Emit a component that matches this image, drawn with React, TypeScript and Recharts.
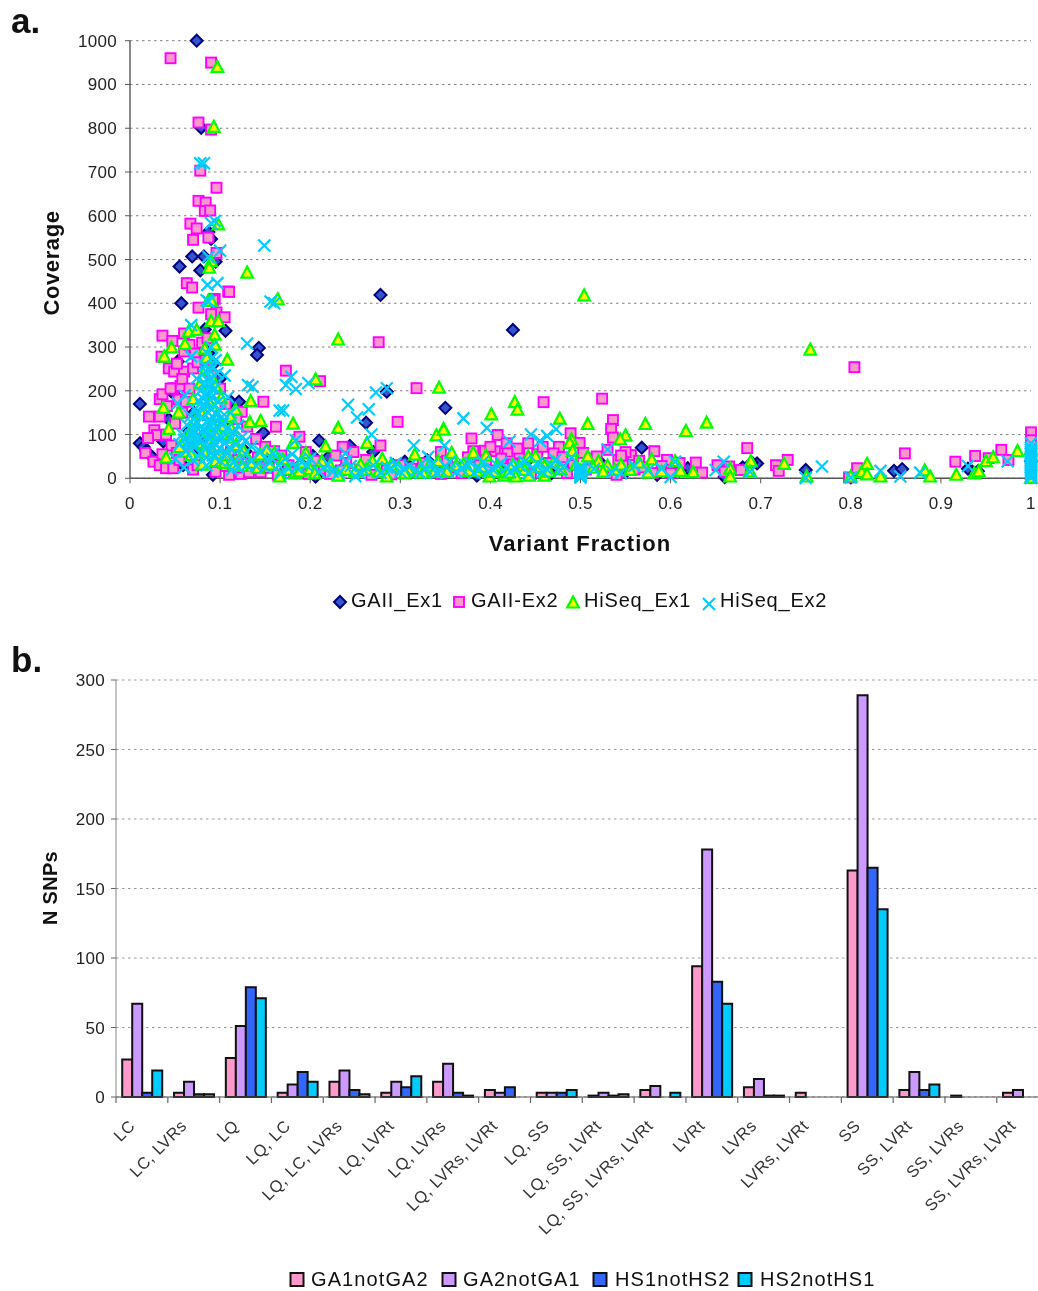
import React from 'react';
import { ScatterChart, Scatter, BarChart, Bar, XAxis, YAxis, CartesianGrid, Legend, Label } from 'recharts';

const FONT = '"Liberation Sans", Arial, sans-serif';

const gaiiEx1: [number, number][] = [
  [0.074,1000],[0.079,801],[0.087,563],[0.09,547],[0.095,495],[0.055,484],[0.069,507],[0.082,507],[0.078,475],
  [0.057,400],[0.278,419],[0.425,339],[0.106,337],[0.143,298],[0.141,282],[0.053,267],[0.285,198],[0.112,175],
  [0.121,175],[0.011,170],[0.35,161],[0.262,127],[0.148,104],[0.011,80],[0.015,72],[0.21,86],[0.203,51],[0.22,48],
  [0.244,74],[0.037,84],[0.059,30],[0.092,8],[0.568,70],[0.619,23],[0.696,34],[0.69,36],[0.75,19],[0.848,17],
  [0.857,21],[0.941,16],[0.935,15],[1,40],[0.018,62],[0.025,48],[0.05,190],[0.043,135],[0.066,108],[0.071,150],
  [0.083,340],[0.087,286],[0.093,262],[0.1,228],[0.104,120],[0.128,62],[0.136,28],[0.156,44],[0.172,18],[0.19,33],
  [0.206,4],[0.236,22],[0.27,60],[0.292,30],[0.305,38],[0.33,41],[0.342,15],[0.37,22],[0.385,6],[0.412,18],[0.443,44],
  [0.468,12],[0.487,26],[0.52,40],[0.55,14],[0.585,8],[0.61,18],[0.66,3],[0.68,25],[0.8,2],[0.93,22],[0.075,68],[0.08,95],
];

const gaiiEx2: [number, number][] = [
  [0.045,960],[0.09,950],[0.076,813],[0.09,797],[0.078,703],[0.096,664],[0.076,634],[0.084,630],[0.083,611],[0.089,612],
  [0.067,582],[0.074,571],[0.07,545],[0.087,550],[0.096,515],[0.063,446],[0.069,436],[0.109,427],[0.094,410],[0.11,426],
  [0.092,407],[0.076,390],[0.096,379],[0.105,368],[0.09,375],[0.036,326],[0.06,331],[0.047,314],[0.276,311],[0.318,206],
  [0.211,222],[0.173,246],[0.297,129],[0.162,118],[0.148,175],[0.124,152],[0.188,95],[0.278,75],[0.236,72],[0.248,60],
  [0.021,141],[0.033,141],[0.027,110],[0.03,99],[0.02,92],[0.017,58],[0.026,38],[0.033,30],[0.04,23],[0.048,23],[0.07,20],
  [0.11,8],[0.123,10],[0.033,181],[0.036,192],[0.048,206],[0.056,211],[0.043,251],[0.049,244],[0.06,244],[0.07,251],
  [0.058,227],[0.035,278],[0.459,174],[0.524,182],[0.536,133],[0.534,113],[0.536,93],[0.379,91],[0.408,99],[0.489,103],
  [0.499,81],[0.582,62],[0.442,80],[0.419,61],[0.381,62],[0.394,63],[0.405,62],[0.432,57],[0.476,72],[0.47,57],[0.556,53],
  [0.596,42],[0.628,36],[0.635,13],[0.652,30],[0.665,27],[0.51,45],[0.56,20],[0.547,35],[0.685,69],[0.678,19],[0.717,30],
  [0.72,17],[0.73,42],[0.804,254],[0.798,2],[0.807,23],[0.86,57],[0.916,38],[0.938,51],[0.953,46],[0.967,65],[0.975,42],
  [1,105],[1,87],[0.054,180],[0.062,175],[0.041,165],[0.05,125],[0.04,100],[0.046,75],[0.052,58],[0.036,55],[0.06,290],
  [0.066,305],[0.072,285],[0.08,310],[0.086,320],[0.075,265],[0.084,270],[0.09,235],[0.1,205],[0.106,170],[0.118,135],
  [0.13,118],[0.14,90],[0.15,72],[0.112,60],[0.12,42],[0.103,28],[0.095,15],[0.125,25],[0.135,34],[0.145,14],[0.16,62],
  [0.168,52],[0.176,30],[0.195,60],[0.205,40],[0.215,22],[0.228,52],[0.24,35],[0.255,20],[0.262,42],[0.285,18],[0.3,30],
  [0.312,22],[0.325,35],[0.335,16],[0.345,60],[0.352,40],[0.36,25],[0.375,48],[0.388,30],[0.398,18],[0.412,45],[0.425,32],
  [0.438,22],[0.452,55],[0.465,35],[0.48,48],[0.492,30],[0.506,20],[0.518,50],[0.53,65],[0.542,42],[0.55,60],[0.565,40],
  [0.57,25],[0.59,28],[0.54,8],[0.58,12],[0.61,35],[0.66,15],
  [0.132,14],[0.142,48],[0.154,24],[0.164,8],[0.182,14],[0.198,10],[0.222,10],[0.234,18],[0.268,8],[0.29,9],[0.345,10],
  [0.368,12],[0.395,42],[0.4,72],[0.418,80],[0.43,68],[0.445,10],[0.458,72],[0.485,12],[0.503,58],[0.525,25],[0.545,52],
  [0.6,12],[0.075,30],[0.055,42],[0.065,72],[0.058,150],[0.066,205],[0.052,262],[0.045,205],
];

const hiseqEx1: [number, number][] = [
  [0.097,939],[0.093,802],[0.098,579],[0.09,495],[0.088,480],[0.13,469],[0.164,408],[0.087,405],[0.09,405],[0.231,316],
  [0.343,206],[0.206,225],[0.108,270],[0.09,358],[0.098,358],[0.065,334],[0.074,338],[0.061,306],[0.046,298],[0.038,277],
  [0.094,327],[0.083,295],[0.085,274],[0.094,304],[0.037,160],[0.134,175],[0.117,156],[0.054,149],[0.043,112],[0.133,127],
  [0.145,130],[0.111,140],[0.181,124],[0.231,114],[0.348,112],[0.34,97],[0.263,80],[0.28,43],[0.316,53],[0.323,23],
  [0.181,80],[0.217,72],[0.213,38],[0.195,57],[0.16,57],[0.152,63],[0.144,53],[0.124,27],[0.134,34],[0.142,23],[0.04,46],
  [0.112,114],[0.166,3],[0.175,19],[0.183,10],[0.188,15],[0.2,20],[0.231,5],[0.24,19],[0.25,15],[0.262,19],[0.269,38],
  [0.285,3],[0.342,38],[0.504,417],[0.427,173],[0.43,156],[0.477,135],[0.401,145],[0.348,110],[0.508,123],[0.572,123],
  [0.617,107],[0.64,126],[0.55,97],[0.544,88],[0.49,88],[0.488,80],[0.491,61],[0.508,49],[0.52,38],[0.579,42],[0.442,49],
  [0.45,49],[0.395,51],[0.381,57],[0.357,57],[0.432,27],[0.399,3],[0.415,5],[0.46,5],[0.46,27],[0.428,3],[0.443,5],[0.514,23],
  [0.538,18],[0.555,18],[0.611,16],[0.625,13],[0.666,21],[0.666,3],[0.605,38],[0.755,293],[0.689,38],[0.688,15],[0.726,32],
  [0.751,3],[0.8,3],[0.812,13],[0.818,32],[0.818,8],[0.833,3],[0.882,17],[0.888,3],[0.917,7],[0.937,10],[0.942,15],[0.95,38],
  [0.958,47],[0.985,61],[1,0],[1,65],[0.07,180],[0.078,215],[0.084,248],[0.09,232],[0.095,210],[0.101,182],[0.072,128],
  [0.065,96],[0.08,146],[0.088,172],[0.096,142],[0.104,118],[0.11,92],[0.086,105],[0.075,80],[0.06,60],[0.068,52],[0.09,70],
  [0.1,56],[0.118,75],[0.126,62],[0.095,38],[0.08,30],[0.105,34],[0.298,25],[0.31,14],[0.332,28],[0.352,14],[0.37,32],[0.385,15],
  [0.408,28],[0.42,12],[0.47,35],[0.5,15],[0.53,28],[0.59,15],
  [0.155,30],[0.17,42],[0.19,35],[0.205,10],[0.222,28],[0.256,30],[0.276,14],[0.29,30],[0.305,10],[0.325,12],[0.338,14],
  [0.362,28],[0.376,16],[0.39,25],[0.405,14],[0.425,30],[0.438,18],[0.455,25],[0.465,14],[0.478,20],[0.495,30],[0.525,14],
  [0.545,30],[0.565,35],[0.575,12],[0.06,85],[0.082,60],[0.098,100],[0.108,52],[0.116,30],[0.055,70],[0.07,105],[0.092,122],
];

const hiseqEx2: [number, number][] = [
  [0.078,720],[0.082,720],[0.09,583],[0.094,588],[0.087,506],[0.1,520],[0.149,532],[0.086,442],[0.097,446],[0.085,407],
  [0.156,404],[0.16,400],[0.087,404],[0.068,350],[0.13,308],[0.068,278],[0.131,213],[0.136,209],[0.179,232],[0.173,213],
  [0.184,204],[0.198,218],[0.273,196],[0.285,206],[0.242,168],[0.252,139],[0.265,158],[0.268,100],[0.315,75],[0.166,155],
  [0.17,155],[0.105,235],[0.109,186],[0.061,190],[0.074,228],[0.053,171],[0.184,87],[0.159,57],[0.12,120],[0.112,150],[0.125,95],
  [0.239,57],[0.331,49],[0.349,75],[0.37,137],[0.396,115],[0.421,84],[0.445,100],[0.463,97],[0.473,112],[0.455,85],[0.53,66],
  [0.605,38],[0.6,3],[0.659,38],[0.65,19],[0.545,12],[0.768,27],[0.688,15],[0.75,1],[0.8,2],[0.833,17],[0.855,4],[0.877,13],
  [0.93,28],[0.974,39],
  [0.09,300],[0.086,285],[0.095,270],[0.092,255],[0.084,245],[0.097,240],[0.09,228],[0.082,218],[0.088,210],[0.094,205],[0.078,200],
  [0.085,192],[0.091,185],[0.076,178],[0.098,175],[0.083,168],[0.09,160],[0.072,158],[0.087,150],[0.095,148],[0.067,142],[0.08,140],
  [0.102,140],[0.074,130],[0.086,128],[0.092,125],[0.063,122],[0.079,118],[0.098,115],[0.107,112],[0.07,108],[0.084,104],[0.09,100],
  [0.058,100],[0.075,95],[0.102,92],[0.112,90],[0.066,86],[0.08,84],[0.094,80],[0.118,78],[0.055,78],[0.071,72],[0.086,70],[0.1,68],
  [0.062,62],[0.078,58],[0.108,58],[0.092,52],[0.125,50],[0.05,45],[0.07,42],[0.1,40],[0.115,38],[0.135,40],[0.085,30],[0.06,25],
  [0.12,25],[0.145,60],[0.14,28],[0.152,42],[0.165,30],[0.172,45],[0.18,55],[0.188,42],[0.176,22],[0.196,30],[0.21,15],[0.22,32],
  [0.232,12],[0.245,28],[0.25,5],[0.26,18],[0.278,12],[0.29,22],[0.3,15],[0.31,28],[0.322,12],[0.335,30],[0.345,18],[0.355,38],
  [0.362,15],[0.372,30],[0.382,12],[0.392,38],[0.402,22],[0.412,35],[0.422,15],[0.432,30],[0.442,12],[0.452,35],[0.462,22],[0.472,42],
  [0.482,28],[0.49,48],[0.515,22],[0.535,15],[0.56,28],[0.575,18],[0.59,22],
  [0.088,135],[0.093,112],[0.082,112],[0.077,88],[0.097,92],[0.072,120],[0.068,98],[0.088,92],[0.083,78],[0.092,68],[0.105,82],
  [0.11,70],[0.076,50],[0.085,48],[0.097,58],[0.065,70],[0.06,88],[0.103,125],[0.115,105],[0.122,68],[0.128,85],[0.135,72],
  [0.08,165],[0.086,175],[0.075,145],[0.093,138],[0.1,155],[0.081,182],[0.09,195],[0.094,168],[0.087,222],[0.089,245],
  [0.083,258],[0.091,275],[0.105,50],[0.113,20],[0.13,30],[0.15,25],[0.158,45],[0.168,12],[0.185,25],[0.2,45],[0.215,25],
  [0.225,15],[0.24,40],[0.255,12],[0.27,30],[0.285,25],[0.295,35],[0.305,22],[0.318,18],[0.328,22],[0.34,12],[0.35,28],[0.368,22],
  [0.378,35],[0.388,22],[0.398,15],[0.408,28],[0.418,25],[0.428,22],[0.438,38],[0.448,22],[0.458,15],[0.468,30],[0.478,18],
  [0.5,2],[0.5,5],[0.5,8],[0.5,11],[0.5,14],[0.5,17],[0.5,20],[0.5,23],[0.5,26],
  [1,1],[1,5],[1,9],[1,13],[1,17],[1,21],[1,25],[1,29],[1,33],[1,37],[1,41],[1,45],[1,49],[1,53],[1,57],[1,61],[1,65],[1,70],[1,80],
];

const fractionTicks = [0,0.1,0.2,0.3,0.4,0.5,0.6,0.7,0.8,0.9,1];
const coverageTicks = [0,100,200,300,400,500,600,700,800,900,1000];
const snpTicks = [0,50,100,150,200,250,300];

const categories = ['LC','LC, LVRs','LQ','LQ, LC','LQ, LC, LVRs','LQ, LVRt','LQ, LVRs','LQ, LVRs, LVRt','LQ, SS','LQ, SS, LVRt','LQ, SS, LVRs, LVRt','LVRt','LVRs','LVRs, LVRt','SS','SS, LVRt','SS, LVRs','SS, LVRs, LVRt'];
const ga1notGa2 = [27,3,28,3,11,3,11,5,3,1,5,94,7,3,163,5,1,3];
const ga2notGa1 = [67,11,51,9,19,11,24,3,3,3,8,178,13,0,289,18,0,5];
const hs1notHs2 = [3,2,79,18,5,7,3,7,3,1,0,83,1,0,165,5,0,0];
const hs2notHs1 = [19,2,71,11,2,15,1,0,5,2,3,67,1,0,135,9,0,0];

const toPoints = (a: [number, number][]) => a.map(([x, y]) => ({ x, y }));
const barTable = categories.map((name, i) => ({
  name, GA1notGA2: ga1notGa2[i], GA2notGA1: ga2notGa1[i], HS1notHS2: hs1notHs2[i], HS2notHS1: hs2notHs1[i],
}));

const Diamond = ({ cx, cy }: any) => (
  <path d={`M${cx} ${cy - 6}L${cx + 6} ${cy}L${cx} ${cy + 6}L${cx - 6} ${cy}Z`} fill="#3355cc" stroke="#000080" strokeWidth={2} />
);
const Square = ({ cx, cy }: any) => (
  <rect x={cx - 5} y={cy - 5} width={10} height={10} fill="#ff99cc" stroke="#ff00ff" strokeWidth={1.9} />
);
const Triangle = ({ cx, cy }: any) => (
  <path d={`M${cx} ${cy - 6.5}L${cx + 5.8} ${cy + 4.5}L${cx - 5.8} ${cy + 4.5}Z`} fill="#ffff00" stroke="#00ff00" strokeWidth={2.2} />
);
const XMark = ({ cx, cy }: any) => (
  <path d={`M${cx - 6} ${cy - 6}L${cx + 6} ${cy + 6}M${cx + 6} ${cy - 6}L${cx - 6} ${cy + 6}`} stroke="#00ccff" strokeWidth={2.2} fill="none" />
);

const ScatterLegend = () => (
  <svg width={1038} height={30} style={{ display: 'block' }} fontFamily={FONT} fontSize={20} fill="#111" letterSpacing={0.8}>
    <Diamond cx={340} cy={18} />
    <text x={351} y={23}>GAII_Ex1</text>
    <Square cx={459} cy={18} />
    <text x={471} y={23}>GAII-Ex2</text>
    <Triangle cx={573} cy={19} />
    <text x={584} y={23}>HiSeq_Ex1</text>
    <XMark cx={709} cy={20} />
    <text x={720} y={23}>HiSeq_Ex2</text>
  </svg>
);

const barColors = ['#ff99cc', '#cc99ff', '#3366ff', '#00ccff'];
const BarLegend = () => (
  <svg width={1038} height={30} style={{ display: 'block' }} fontFamily={FONT} fontSize={20} fill="#111" letterSpacing={1.1}>
    {[290, 442, 593, 738].map((x, i) => (
      <rect key={x} x={x + 0.5} y={5} width={13} height={13} fill={barColors[i]} stroke="#111" strokeWidth={2} />
    ))}
    <text x={311} y={18}>GA1notGA2</text>
    <text x={463} y={18}>GA2notGA1</text>
    <text x={615} y={18}>HS1notHS2</text>
    <text x={760} y={18}>HS2notHS1</text>
  </svg>
);

const CategoryTick = ({ x, y, payload }: any) => {
  const half = 25.9;
  return (
    <g>
      <line x1={x - half} x2={x - half} y1={y - 8} y2={y - 2} stroke="#666" strokeWidth={1.2} />
      <text
        transform={`translate(${x - 6} ${y + 22}) rotate(-45)`}
        textAnchor="end"
        fontFamily={FONT}
        fontSize={16.5}
        fill="#333"
        letterSpacing={0.4}
      >
        {payload.value}
      </text>
    </g>
  );
};

const AxisTitle = ({ x, y, rotate, size, text, spacing }: any) => (
  <text
    transform={`translate(${x} ${y})${rotate ? ' rotate(-90)' : ''}`}
    textAnchor="middle"
    fontFamily={FONT}
    fontWeight="bold"
    fontSize={size}
    letterSpacing={spacing}
    fill="#111"
  >
    {text}
  </text>
);

const tickStyle = { fontFamily: FONT, fontSize: 17, fill: '#222', letterSpacing: 0.3 };

export default function App() {
  return (
    <div style={{ position: 'absolute', left: 0, top: 0, width: 1038, height: 1291, overflow: 'hidden', background: '#fff', fontFamily: FONT, filter: 'blur(0.35px)' }}>
      <div style={{ position: 'absolute', left: 11, top: 1, fontSize: 35, fontWeight: 'bold', color: '#111' }}>a.</div>
      <div style={{ position: 'absolute', left: 11, top: 640, fontSize: 35, fontWeight: 'bold', color: '#111' }}>b.</div>

      <div style={{ position: 'absolute', left: 0, top: 0 }}>
        <ScatterChart width={1038} height={640} margin={{ top: 40.7, right: 7, bottom: 0, left: 0 }}>
          <CartesianGrid horizontal vertical={false} stroke="#808080" strokeDasharray="2.5 3.5" strokeWidth={1} />
          <XAxis type="number" dataKey="x" domain={[0, 1]} ticks={fractionTicks} height={161.7} interval={0}
            tick={tickStyle} tickMargin={14} tickSize={5} axisLine={{ stroke: '#555', strokeWidth: 1.4 }} tickLine={{ stroke: '#555' }}
            tickFormatter={(v: number) => String(v)}>
            <Label content={() => <AxisTitle x={580} y={551} size={22} spacing={1} text="Variant Fraction" />} />
          </XAxis>
          <YAxis type="number" dataKey="y" domain={[0, 1000]} ticks={coverageTicks} width={130} interval={0}
            tick={tickStyle} tickMargin={8} tickSize={5} axisLine={{ stroke: '#555', strokeWidth: 1.4 }} tickLine={{ stroke: '#555' }}>
            <Label content={() => <AxisTitle x={59} y={263} rotate size={22} spacing={0.6} text="Coverage" />} />
          </YAxis>
          <Legend layout="horizontal" verticalAlign="middle" align="center" wrapperStyle={{ top: 584, left: 0, width: 1038, height: 30 }} content={() => <ScatterLegend />} />
          <Scatter name="GAII_Ex1" data={toPoints(gaiiEx1)} shape={<Diamond />} isAnimationActive={false} />
          <Scatter name="GAII-Ex2" data={toPoints(gaiiEx2)} shape={<Square />} isAnimationActive={false} />
          <Scatter name="HiSeq_Ex1" data={toPoints(hiseqEx1)} shape={<Triangle />} isAnimationActive={false} />
          <Scatter name="HiSeq_Ex2" data={toPoints(hiseqEx2)} shape={<XMark />} isAnimationActive={false} />
        </ScatterChart>
      </div>

      <div style={{ position: 'absolute', left: 0, top: 640 }}>
        <BarChart width={1060} height={651} data={barTable} margin={{ top: 40, right: 11.4, bottom: 0, left: 0 }} barGap={0} barCategoryGap="12%">
          <CartesianGrid horizontal vertical={false} stroke="#999" strokeDasharray="2.5 3.5" strokeWidth={1} />
          <XAxis dataKey="name" height={194} interval={0} tick={<CategoryTick />} tickLine={false} axisLine={{ stroke: '#555', strokeWidth: 1.2 }} />
          <YAxis type="number" domain={[0, 300]} ticks={snpTicks} width={116} interval={0}
            tick={tickStyle} tickMargin={6} tickSize={5} axisLine={{ stroke: '#999', strokeWidth: 1.2 }} tickLine={{ stroke: '#666' }}>
            <Label content={() => <AxisTitle x={57} y={248} rotate size={20} spacing={0.3} text="N SNPs" />} />
          </YAxis>
          <Legend layout="horizontal" verticalAlign="middle" align="center" wrapperStyle={{ top: 628, left: 0, width: 1038, height: 30 }} content={() => <BarLegend />} />
          <Bar dataKey="GA1notGA2" fill={barColors[0]} stroke="#111" strokeWidth={2} isAnimationActive={false} />
          <Bar dataKey="GA2notGA1" fill={barColors[1]} stroke="#111" strokeWidth={2} isAnimationActive={false} />
          <Bar dataKey="HS1notHS2" fill={barColors[2]} stroke="#111" strokeWidth={2} isAnimationActive={false} />
          <Bar dataKey="HS2notHS1" fill={barColors[3]} stroke="#111" strokeWidth={2} isAnimationActive={false} />
        </BarChart>
      </div>
    </div>
  );
}
